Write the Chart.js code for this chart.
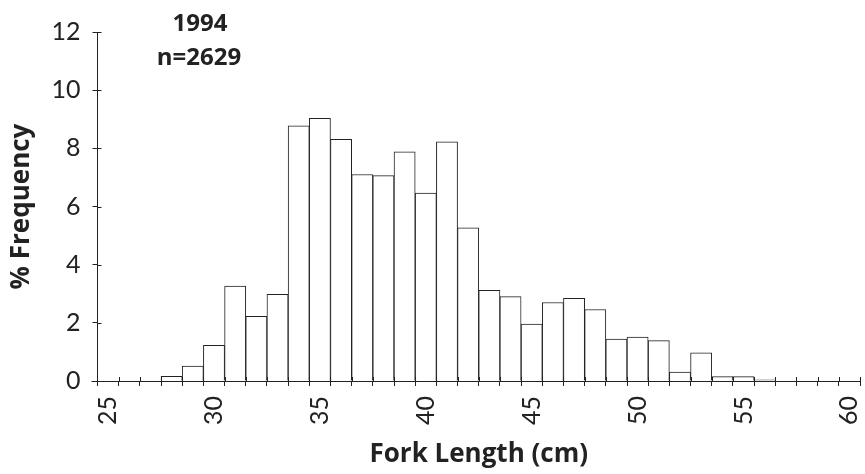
<!DOCTYPE html>
<html><head><meta charset="utf-8">
<script src="https://cdn.jsdelivr.net/npm/chart.js@4"></script>
<style>html,body{margin:0;padding:0;background:#fff}</style>
</head><body>
<canvas id="c" width="865" height="474"></canvas>
<script>
const forkLengths = [25,26,27,28,29,30,31,32,33,34,35,36,37,38,39,40,41,42,43,44,45,46,47,48,49,50,51,52,53,54,55,56,57,58,59,60];
const frequency = [0,0,0,0.16,0.51,1.23,3.26,2.22,2.98,8.77,9.03,8.31,7.10,7.06,7.88,6.46,8.22,5.27,3.12,2.90,1.96,2.70,2.84,2.46,1.44,1.51,1.39,0.31,0.97,0.15,0.15,0.04,0,0,0,0];
const xLabelEvery = 5;
const yMin = 0, yMax = 12, yStep = 2;
const titleLines = ['1994', 'n=2629'];
const xTitle = 'Fork Length (cm)';
const yTitle = '% Frequency';

const ink = '#222';
const tickFont = {family: 'Lato', size: 25, weight: 'normal'};
const boldFont = {family: 'Open Sans', size: 26, weight: 'bold'};

const extras = {
  id: 'extras',
  afterDraw(chart) {
    const ctx = chart.ctx, xs = chart.scales.x, ys = chart.scales.y, a = chart.chartArea;
    ctx.save();
    ctx.strokeStyle = ink; ctx.lineWidth = 1;
    const w = xs.getPixelForValue(1) - xs.getPixelForValue(0);
    ctx.beginPath();
    for (let i = 0; i <= forkLengths.length; i++) {
      const x = Math.round(xs.getPixelForValue(0) - w / 2 + i * w) + 0.5;
      ctx.moveTo(x, a.bottom - 4); ctx.lineTo(x, a.bottom);
    }
    for (let v = yMin; v <= yMax; v += yStep) {
      const y = Math.round(ys.getPixelForValue(v)) + 0.5;
      ctx.moveTo(a.left, y); ctx.lineTo(a.left + 4, y);
    }
    ctx.moveTo(a.left - 6, Math.round(a.bottom) + 0.5); ctx.lineTo(a.left, Math.round(a.bottom) + 0.5);
    ctx.stroke();
    ctx.fillStyle = ink;
    ctx.font = 'bold 24px "Open Sans"';
    ctx.textAlign = 'center'; ctx.textBaseline = 'middle';
    ctx.fillText(titleLines[0], 200, 24);
    ctx.fillText(titleLines[1], 199, 58);
    ctx.restore();
  }
};

new Chart(document.getElementById('c'), {
  type: 'bar',
  data: {
    labels: forkLengths.map(String),
    datasets: [{
      data: frequency,
      backgroundColor: '#fff',
      borderColor: ink,
      borderWidth: 1,
      barPercentage: 1,
      categoryPercentage: 1
    }]
  },
  options: {
    responsive: false,
    animation: false,
    devicePixelRatio: 1,
    layout: {padding: {top: 32, right: 5, left: 0, bottom: 0}},
    plugins: {legend: {display: false}, tooltip: {enabled: false}, title: {display: false}},
    scales: {
      x: {
        offset: true,
        grid: {display: true, drawOnChartArea: false, offset: true, tickLength: 5, color: ink, tickColor: ink},
        border: {display: true, color: ink, width: 1},
        ticks: {
          autoSkip: false, minRotation: 90, maxRotation: 90, padding: 10,
          color: ink, font: tickFont,
          callback: function (v) { const l = forkLengths[v]; return l % xLabelEvery === 0 ? String(l) : ''; }
        },
        title: {display: true, text: xTitle, color: ink, font: boldFont, padding: {top: 0, bottom: 4}},
        afterFit(s) { s.height = 93; s.paddingLeft = 0; s.paddingRight = 0; }
      },
      y: {
        min: yMin, max: yMax,
        grid: {display: true, drawOnChartArea: false, tickLength: 5, color: ink, tickColor: ink},
        border: {display: true, color: ink, width: 1},
        ticks: {stepSize: yStep, padding: 12, color: ink, font: tickFont},
        title: {display: true, text: yTitle, color: ink, font: boldFont, padding: {top: 6, bottom: 0}},
        afterFit(s) { s.width = 97.5; }
      }
    }
  },
  plugins: [extras]
});
</script>
</body></html>
